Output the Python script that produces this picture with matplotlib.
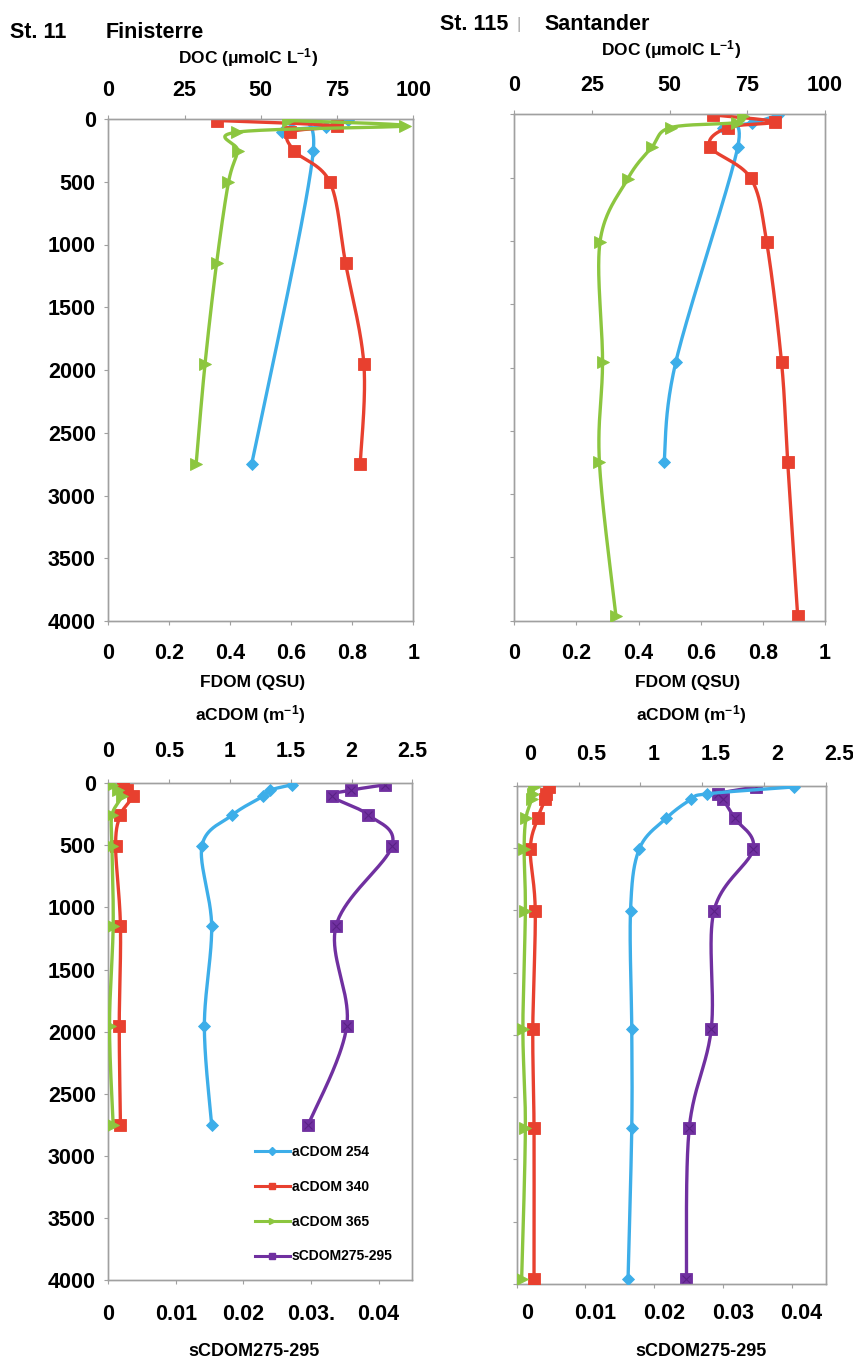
import numpy as np
import matplotlib
matplotlib.use("Agg")
import matplotlib.pyplot as plt
import matplotlib.transforms as mtransforms

plt.rcParams['font.family'] = ['Liberation Sans', 'DejaVu Sans']
plt.rcParams['font.weight'] = 'bold'
plt.rcParams['mathtext.fontset'] = 'custom'
plt.rcParams['mathtext.rm'] = 'Liberation Sans:bold'
plt.rcParams['mathtext.bf'] = 'Liberation Sans:bold'
plt.rcParams['mathtext.it'] = 'Liberation Sans:bold'

# ---------------- data ----------------
depth_ticks = [0, 500, 1000, 1500, 2000, 2500, 3000, 3500, 4000]
doc_ticks = [0, 25, 50, 75, 100]
fdom_ticks = [0, 0.2, 0.4, 0.6, 0.8, 1.0]
fdom_labels = ['0', '0.2', '0.4', '0.6', '0.8', '1']
acdom_ticks = [0, 0.5, 1.0, 1.5, 2.0, 2.5]
acdom_labels = ['0', '0.5', '1', '1.5', '2', '2.5']
scdom_ticks = [0, 0.01, 0.02, 0.03, 0.04]
scdom_labels_st11 = ['0', '0.01', '0.02', '0.03.', '0.04']
scdom_labels_st115 = ['0', '0.01', '0.02', '0.03', '0.04']

# St. 11 Finisterre -- upper panel
st11_doc_depth = [12, 55, 105, 255, 505, 1150, 1955, 2750]
st11_doc = [59.0, 97.3, 42.1, 42.4, 39.4, 35.5, 31.7, 28.8]
st11_fdom_a_depth = [8, 60, 105, 255, 2750]
st11_fdom_a = [0.787, 0.714, 0.568, 0.672, 0.470]
st11_fdom_b_depth = [12, 55, 105, 255, 505, 1150, 1955, 2750]
st11_fdom_b = [0.357, 0.749, 0.596, 0.610, 0.727, 0.778, 0.838, 0.826]

# St. 115 Santander -- upper panel
st115_doc_depth = [10, 65, 105, 255, 510, 1005, 1955, 2750, 3960]
st115_doc = [73.7, 71.6, 50.3, 44.4, 36.5, 27.6, 28.4, 27.4, 32.7]
st115_fdom_a_depth = [5, 70, 105, 260, 1955, 2750]
st115_fdom_a = [0.850, 0.764, 0.673, 0.719, 0.520, 0.482]
st115_fdom_b_depth = [5, 60, 105, 255, 505, 1005, 1955, 2750, 3960]
st115_fdom_b = [0.640, 0.839, 0.687, 0.630, 0.761, 0.812, 0.860, 0.880, 0.912]

# St. 11 Finisterre -- lower panel
st11_cdom_depth = [12, 55, 105, 255, 505, 1150, 1955, 2750]
st11_a254 = [1.51, 1.33, 1.27, 1.02, 0.77, 0.85, 0.79, 0.85]
st11_a340 = [0.12, 0.15, 0.20, 0.10, 0.06, 0.10, 0.09, 0.10]
st11_a365 = [0.03, 0.08, 0.11, 0.03, 0.03, 0.04, 0.01, 0.04]
st11_s275 = [0.0410, 0.0360, 0.0331, 0.0385, 0.0420, 0.0337, 0.0353, 0.0296]

# St. 115 Santander -- lower panel
st115_cdom_depth = [10, 65, 110, 260, 510, 1005, 1955, 2750, 3960]
st115_a254 = [2.24, 1.54, 1.41, 1.21, 0.99, 0.92, 0.93, 0.93, 0.90]
st115_a340 = [0.26, 0.24, 0.23, 0.17, 0.11, 0.15, 0.13, 0.14, 0.14]
st115_a365 = [0.14, 0.13, 0.12, 0.075, 0.06, 0.07, 0.05, 0.07, 0.04]
st115_s275 = [0.0348, 0.0293, 0.0300, 0.0317, 0.0344, 0.0287, 0.0283, 0.0251, 0.0247]

series_names = ['aCDOM 254', 'aCDOM 340', 'aCDOM 365', 'sCDOM275-295']

# ---------------- styling ----------------
C_BLUE = '#3DAEE9'
C_RED = '#E8402F'
C_GREEN = '#8CC63F'
C_PURPLE = '#7030A0'
SPINE = '#A0A0A0'
LW = 2.4
TICK_FS = 15.5

W, H = 854, 1366
fig = plt.figure(figsize=(W / 100, H / 100), dpi=100)


def rect(l, t, r, b):
    return [l / W, 1 - b / H, (r - l) / W, (b - t) / H]


def smooth_path(ax, xs, ys, n=40):
    """Bezier smoothing (Catmull-Rom style) computed in display space."""
    pts = ax.transData.transform(np.column_stack([xs, ys]))
    P = np.vstack([pts[0], pts, pts[-1]])
    out = []
    for i in range(1, len(P) - 2):
        p0, p1, p2, p3 = P[i - 1], P[i], P[i + 1], P[i + 2]
        c1 = p1 + (p2 - p0) / 6.0
        c2 = p2 - (p3 - p1) / 6.0
        t = np.linspace(0, 1, n)[:, None]
        seg = ((1 - t) ** 3) * p1 + 3 * ((1 - t) ** 2) * t * c1 + 3 * (1 - t) * t ** 2 * c2 + t ** 3 * p2
        out.append(seg if i == 1 else seg[1:])
    out = np.vstack(out)
    data = ax.transData.inverted().transform(out)
    return data[:, 0], data[:, 1]


def draw_series(ax, xs, ys, color, marker, ms, label=None, cross=False, z=3):
    sx, sy = smooth_path(ax, xs, ys)
    ax.plot(sx, sy, color=color, lw=LW, solid_capstyle='round', zorder=z)
    ax.plot(xs, ys, ls='none', marker=marker, ms=ms, color=color,
            mec=color, mew=0.6, zorder=z + 0.5)
    if cross:
        ax.plot(xs, ys, ls='none', marker='x', ms=ms * 0.7, color='#5A2186',
                mew=0.8, zorder=z + 0.6)
    if label is not None:
        ax.plot([], [], color=color, lw=2.2, marker=marker, ms=4.5, label=label)


def style_axes(ax, ax2, show_depth, bottom_pad, top_pad):
    ax.set_ylim(4000, 0)
    ax.set_yticks(depth_ticks)
    for a in (ax, ax2):
        for s in a.spines.values():
            s.set_color(SPINE)
            s.set_linewidth(1.0)
    ax.tick_params(axis='y', length=3, color=SPINE, labelsize=TICK_FS, pad=6,
                   labelleft=show_depth)
    ax.tick_params(axis='x', length=3, color=SPINE, labelsize=TICK_FS, pad=bottom_pad, direction='out')
    ax2.tick_params(axis='x', length=3, color=SPINE, labelsize=TICK_FS, pad=top_pad, direction='out')


# ---------------- upper panels: DOC / FDOM ----------------
upper = [
    (rect(108.3, 119, 413.3, 621), True,
     (st11_doc_depth, st11_doc), (st11_fdom_a_depth, st11_fdom_a), (st11_fdom_b_depth, st11_fdom_b)),
    (rect(514.3, 114.3, 825, 620.7), False,
     (st115_doc_depth, st115_doc), (st115_fdom_a_depth, st115_fdom_a), (st115_fdom_b_depth, st115_fdom_b)),
]
for r, show_depth, doc, fa, fb in upper:
    ax = fig.add_axes(r)
    ax.set_xlim(0, 1)
    ax.set_ylim(4000, 0)
    ax2 = ax.twiny()
    ax2.set_xlim(0, 100)
    ax2.set_ylim(4000, 0)
    ax.set_xticks(fdom_ticks)
    ax.set_xticklabels(fdom_labels)
    ax2.set_xticks(doc_ticks)
    ax2.set_xticklabels([str(v) for v in doc_ticks])
    style_axes(ax, ax2, show_depth, bottom_pad=13, top_pad=10)
    draw_series(ax, fa[1], fa[0], C_BLUE, 'D', 6.5, z=3)
    draw_series(ax, fb[1], fb[0], C_RED, 's', 8, z=4)
    draw_series(ax2, doc[1], doc[0], C_GREEN, '>', 9, z=5)

# ---------------- lower panels: aCDOM / sCDOM ----------------
lower = [
    (rect(108.3, 783.3, 412.3, 1280), True, st11_cdom_depth,
     st11_a254, st11_a340, st11_a365, st11_s275, scdom_labels_st11, 14, 12, 0, 0),
    (rect(516.7, 785.7, 826, 1284), False, st115_cdom_depth,
     st115_a254, st115_a340, st115_a365, st115_s275, scdom_labels_st115, 11, 12, 10, 13),
]
for (r, show_depth, dep, a254, a340, a365, s275, slabels,
     bpad, tpad, bshift, tshift) in lower:
    ax = fig.add_axes(r)
    ax.set_xlim(0, 0.045)
    ax.set_ylim(4000, 0)
    ax2 = ax.twiny()
    ax2.set_xlim(0, 2.5)
    ax2.set_ylim(4000, 0)
    ax.set_xticks(scdom_ticks)
    ax.set_xticklabels(slabels)
    ax2.set_xticks(acdom_ticks)
    ax2.set_xticklabels(acdom_labels)
    style_axes(ax, ax2, show_depth, bottom_pad=bpad, top_pad=tpad)
    for lab in ax.get_xticklabels():
        lab.set_transform(lab.get_transform() +
                          mtransforms.ScaledTranslation(bshift / 100, 0, fig.dpi_scale_trans))
    for lab in ax2.get_xticklabels():
        lab.set_transform(lab.get_transform() +
                          mtransforms.ScaledTranslation(tshift / 100, 0, fig.dpi_scale_trans))
    lbl = show_depth
    draw_series(ax2, a254, dep, C_BLUE, 'D', 6.5, label=series_names[0] if lbl else None, z=3)
    draw_series(ax2, a340, dep, C_RED, 's', 8, label=series_names[1] if lbl else None, z=4)
    draw_series(ax2, a365, dep, C_GREEN, '>', 9, label=series_names[2] if lbl else None, z=5)
    draw_series(ax, s275, dep, C_PURPLE, 's', 9, cross=True, z=6)
    if lbl:
        ax.plot([], [], color=C_PURPLE, lw=2.2, marker='s', ms=4.5, label=series_names[3])
        h2, l2 = ax2.get_legend_handles_labels()
        h1, l1 = ax.get_legend_handles_labels()
        leg = ax2.legend(h2 + h1, l2 + l1, loc='upper left',
                         bbox_to_anchor=(255 / W, 1 - 1145 / H), bbox_transform=fig.transFigure,
                         frameon=False, fontsize=10, handlelength=2.5, handletextpad=0.15,
                         labelspacing=1.5, borderpad=0, borderaxespad=0)
        for t in leg.get_texts():
            t.set_fontweight('bold')


# ---------------- titles and axis captions ----------------
def ftext(x, y, s, size, ha='center', **kw):
    kw.setdefault('fontweight', 'bold')
    fig.text(x / W, 1 - y / H, s, fontsize=size, ha=ha, va='center', **kw)


ftext(10, 32, 'St. 11', 15.5, ha='left')
ftext(106, 32, 'Finisterre', 15.5, ha='left')
ftext(440, 24, 'St. 115', 15.5, ha='left')
ftext(517, 24, '|', 12, ha='left', color='#AAAAAA', fontweight='normal')
ftext(544, 24, 'Santander', 15.5, ha='left')

ftext(248, 58, 'DOC (μmolC L$^{-1}$)', 12.5)
ftext(671, 50, 'DOC (μmolC L$^{-1}$)', 12.5)

ftext(253, 683, 'FDOM (QSU)', 12.5)
ftext(688, 683, 'FDOM (QSU)', 12.5)
ftext(250, 715, 'aCDOM (m$^{-1}$)', 12.5)
ftext(691, 715, 'aCDOM (m$^{-1}$)', 12.5)

ftext(254, 1352, 'sCDOM275-295', 13)
ftext(701, 1352, 'sCDOM275-295', 13)

fig.savefig('out.png', dpi=100)
